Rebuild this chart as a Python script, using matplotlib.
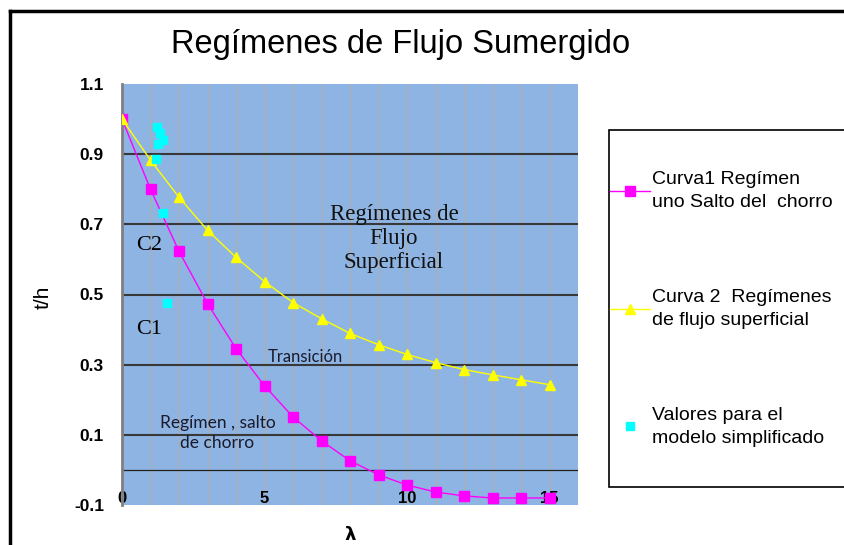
import matplotlib
matplotlib.use('Agg')
import matplotlib.pyplot as plt
from matplotlib.lines import Line2D
from matplotlib.patches import Rectangle

# datos
lam = [0, 1, 2, 3, 4, 5, 6, 7, 8, 9, 10, 11, 12, 13, 14, 15]
curva1 = [1.00, 0.80, 0.623, 0.474, 0.346, 0.24, 0.151, 0.083, 0.026, -0.014,
          -0.043, -0.063, -0.074, -0.08, -0.08, -0.08]
curva2 = [1.00, 0.883, 0.777, 0.683, 0.606, 0.537, 0.477, 0.431, 0.389, 0.357,
          0.329, 0.306, 0.286, 0.271, 0.257, 0.243]
# valores para el modelo simplificado
lam_mod = [1.23, 1.34, 1.44, 1.27, 1.2, 1.44, 1.58]
th_mod = [0.977, 0.96, 0.94, 0.93, 0.886, 0.731, 0.477]

y_ticks = [-0.1, 0.1, 0.3, 0.5, 0.7, 0.9, 1.1]
x_ticks = [0, 5, 10, 15]

lbl1 = 'Curva1 Regímen\nuno Salto del  chorro'
lbl2 = 'Curva 2  Regímenes\nde flujo superficial'
lbl3 = 'Valores para el\nmodelo simplificado'

plt.rcParams['font.family'] = ['Liberation Sans', 'DejaVu Sans']

fig = plt.figure(figsize=(8.44, 5.45), dpi=100)
ax = fig.add_axes([122 / 844, 1 - 505 / 545, 456 / 844, 421 / 545])
ax.set_facecolor('#8EB4E3')

# rejilla
for x in range(1, 17):
    ax.axvline(x, color='#ADADAD', lw=0.9, zorder=1)
for y in y_ticks[1:-1]:
    ax.axhline(y, color='#383838', lw=1.5, zorder=1)
ax.axhline(0, color='#202020', lw=0.9, zorder=1)

l1, = ax.plot(lam, curva1, '-s', color='#FF00FF', ms=7.5, lw=1, zorder=3)
l2, = ax.plot(lam, curva2, '-^', color='#FFFF00', ms=7.5, lw=1, zorder=3)
l3, = ax.plot(lam_mod, th_mod, 's', color='#00FFFF', ms=6, lw=0, zorder=4)

ax.set_xlim(0, 16)
ax.set_ylim(-0.1, 1.1)
ax.set_yticks(y_ticks)
ax.set_yticklabels([str(v) for v in y_ticks], fontsize=12.5, fontweight='bold')
ax.set_xticks(x_ticks)
ax.set_xticklabels([str(v) for v in x_ticks], fontsize=12, fontweight='bold')
ax.tick_params(axis='y', length=0, pad=13)
ax.tick_params(axis='x', length=0, pad=-10)
for s in ['top', 'right', 'bottom']:
    ax.spines[s].set_visible(False)
ax.spines['left'].set_color('#808080')
ax.spines['left'].set_linewidth(2)

# textos dentro del gráfico
ax.text(9.54, 0.66, 'Regímenes de\nFlujo\nSuperficial', family='Liberation Serif',
        fontsize=16.5, ha='center', va='center', linespacing=1.2, color='#111111')
ax.text(0.95, 0.64, 'C2', family='Liberation Serif', fontsize=16, ha='center', va='center')
ax.text(0.95, 0.40, 'C1', family='Liberation Serif', fontsize=16, ha='center', va='center')
ax.text(6.44, 0.323, 'Transición', family='Lato', fontsize=12, ha='center', va='center',
        color='#1a1a2a')
ax.text(3.35, 0.106, 'Regímen , salto\nde chorro', family='Lato', fontsize=12.5,
        ha='center', va='center', linespacing=1.3, color='#1a1a2a')

fig.text(401 / 844, 1 - 45 / 545, 'Regímenes de Flujo Sumergido', fontsize=23.5,
         ha='center', va='center')
fig.text(43 / 844, 1 - 297 / 545, 't/h', fontsize=15, rotation=90, ha='center', va='center')
fig.text(350 / 844, 1 - 535 / 545, 'λ', fontsize=13, fontweight='bold', ha='center',
         va='center', family=['DejaVu Sans'])

# leyenda con su caja
fig.add_artist(Rectangle((609 / 844, 1 - 487 / 545), 0.4, 357 / 545,
                         transform=fig.transFigure, facecolor='white',
                         edgecolor='black', lw=1.2, zorder=0))
leg = fig.legend([l1, l2, l3], [lbl1, lbl2, lbl3], loc='center left',
                 bbox_to_anchor=(610 / 844, 1 - 309 / 545), fontsize=14,
                 frameon=False, handlelength=2.05, handletextpad=0.12,
                 labelspacing=4.0, borderpad=0, borderaxespad=0)
for t in leg.get_texts():
    t.set_linespacing(1.45)

# marco exterior
fig.add_artist(Line2D([10 / 844, 1], [1 - 11 / 545, 1 - 11 / 545], color='black', lw=2.5))
fig.add_artist(Line2D([10 / 844, 10 / 844], [0, 1 - 11 / 545], color='black', lw=2.5))

fig.savefig('out.png', dpi=100)
